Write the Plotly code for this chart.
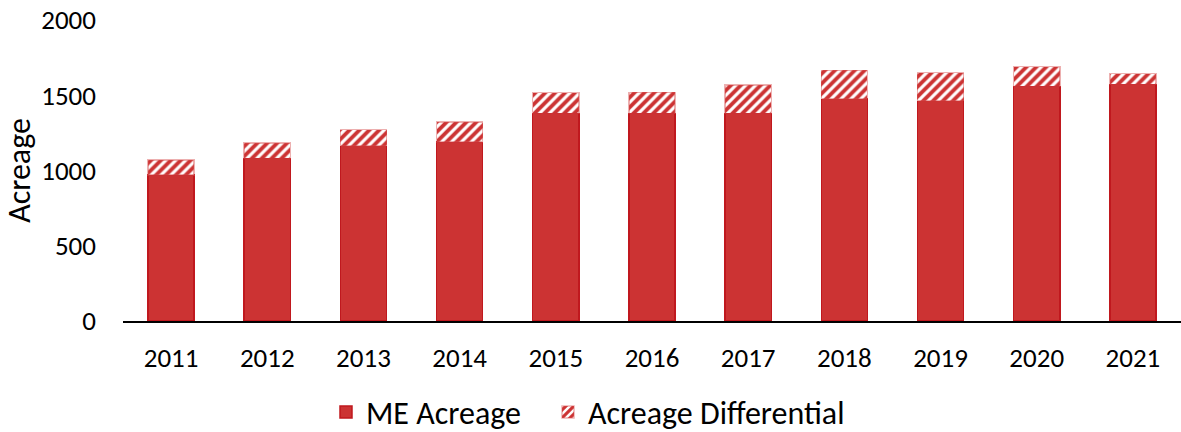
import plotly.graph_objects as go

years = ["2011", "2012", "2013", "2014", "2015", "2016", "2017", "2018", "2019", "2020", "2021"]
me_acreage = [970, 1081, 1165, 1191, 1380, 1380, 1380, 1478, 1464, 1559, 1573]
acreage_diff = [100, 102, 106, 131, 137, 139, 188, 188, 186, 131, 70]
y_ticks = [0, 500, 1000, 1500, 2000]

RED = "#CC3333"
FONT = "Calibri, Carlito, Liberation Sans, Arial, sans-serif"
FS = 27

fig = go.Figure()
fig.add_trace(go.Bar(
    x=years, y=me_acreage, name="ME Acreage", legend="legend",
    marker=dict(color=RED, line=dict(color="#C0181E", width=1.5)),
))
fig.add_trace(go.Bar(
    x=years, y=acreage_diff, name="Acreage Differential", legend="legend2",
    marker=dict(
        color="white",
        line=dict(color="rgba(214,80,80,0.45)", width=1.5),
        pattern=dict(shape="/", fgcolor=RED, bgcolor="white", size=7,
                     solidity=0.55, fgopacity=1),
    ),
))

leg_common = dict(orientation="h", xref="container", yref="container",
                  xanchor="left", y=0.046, yanchor="middle",
                  font=dict(size=32), itemwidth=30)

fig.update_layout(
    barmode="stack",
    bargap=0.52,
    width=1181, height=432,
    margin=dict(l=123, r=0, t=20, b=111, autoexpand=False),
    plot_bgcolor="white", paper_bgcolor="white",
    font=dict(family=FONT, size=FS, color="black"),
    showlegend=True,
    legend=dict(x=326 / 1181, **leg_common),
    legend2=dict(x=548 / 1181, **leg_common),
    xaxis=dict(
        showline=True, linecolor="black", linewidth=1.5,
        showgrid=False, ticks="", ticklabelstandoff=12,
        tickfont=dict(size=FS), automargin=False,
    ),
    yaxis=dict(
        range=[0, 2000], tickvals=y_ticks, showgrid=False, showline=False,
        zeroline=False, ticks="", ticklabelstandoff=26,
        tickfont=dict(size=FS), automargin=False,
        title=dict(text="Acreage", font=dict(size=32), standoff=6),
    ),
)

fig.write_html("out.html", post_script="document.body.style.margin='0';",
               config={"displayModeBar": False})
